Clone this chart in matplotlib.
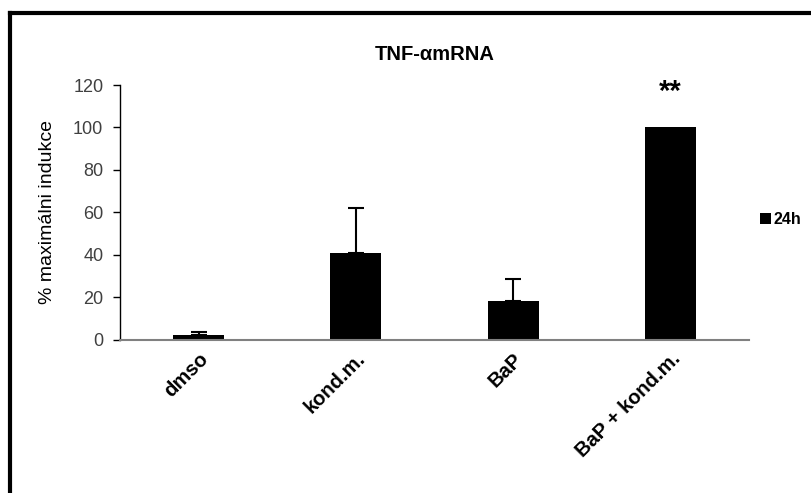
import matplotlib
matplotlib.use("Agg")
import matplotlib.pyplot as plt
from matplotlib.lines import Line2D
import numpy as np

categories = ["dmso", "kond.m.", "BaP", "BaP + kond.m."]
values = [2.0, 41.0, 18.3, 100.0]
errors = [1.4, 21.0, 10.0, 0.0]
yticks = [0, 20, 40, 60, 80, 100, 120]

plt.rcParams['font.family'] = ['Liberation Sans', 'DejaVu Sans']

fig = plt.figure(figsize=(8.11, 4.93), dpi=100)
ax = fig.add_axes([120/811, 1-339.5/493, (749-120)/811, (339.5-85)/493])

x = np.arange(len(categories))
ax.bar(x, values, width=0.325, color="black", label="24h", zorder=2)
# only bars that have an error value get an (upper) error bar
has_err = [i for i, e in enumerate(errors) if e > 0]
ax.errorbar(x[has_err], [values[i] for i in has_err],
            yerr=[np.zeros(len(has_err)), [errors[i] for i in has_err]], fmt="none",
            ecolor="black", elinewidth=1.5, capsize=6, capthick=1.5, zorder=1)

ax.set_xlim(-0.5, 3.5)
ax.set_ylim(0, 120)
ax.set_yticks(yticks)
ax.set_yticklabels([str(t) for t in yticks], color="#404040",
                   family=['Liberation Sans Narrow', 'Liberation Sans'], fontsize=13)
ax.tick_params(axis="y", direction="out", length=5, width=1, color="black", pad=7)
ax.tick_params(axis="x", length=0, pad=7)
ax.set_xticks(x)
ax.set_xticklabels(categories, rotation=45, ha="right", va="top",
                   rotation_mode="anchor", fontsize=14.5, fontweight="bold")

for s in ["top", "right"]:
    ax.spines[s].set_visible(False)
ax.spines["left"].set_color("black")
ax.spines["left"].set_linewidth(1)
ax.spines["bottom"].set_color("#808080")
ax.spines["bottom"].set_linewidth(1.5)

ax.set_ylabel("% maximálni indukce", fontsize=14, labelpad=12)
ax.set_title("TNF-\u03b1mRNA", fontsize=14.5, fontweight="bold", pad=18)

ax.text(3, 116.5, "**", ha="center", va="center", fontsize=21, fontweight="bold")

leg = ax.legend(loc="center left", bbox_to_anchor=(0.995, 0.47), frameon=False,
                handlelength=0.65, handleheight=0.65, handletextpad=0.2,
                prop={"weight": "bold", "size": 11.5})

# outer chart frame (only top and left edges visible in the picture)
fig.add_artist(Line2D([10/811, 10/811], [0, 1-12.5/493], color="black", lw=3))
fig.add_artist(Line2D([10/811, 1], [1-12.5/493, 1-12.5/493], color="black", lw=3))

fig.savefig("out.png", dpi=100)
